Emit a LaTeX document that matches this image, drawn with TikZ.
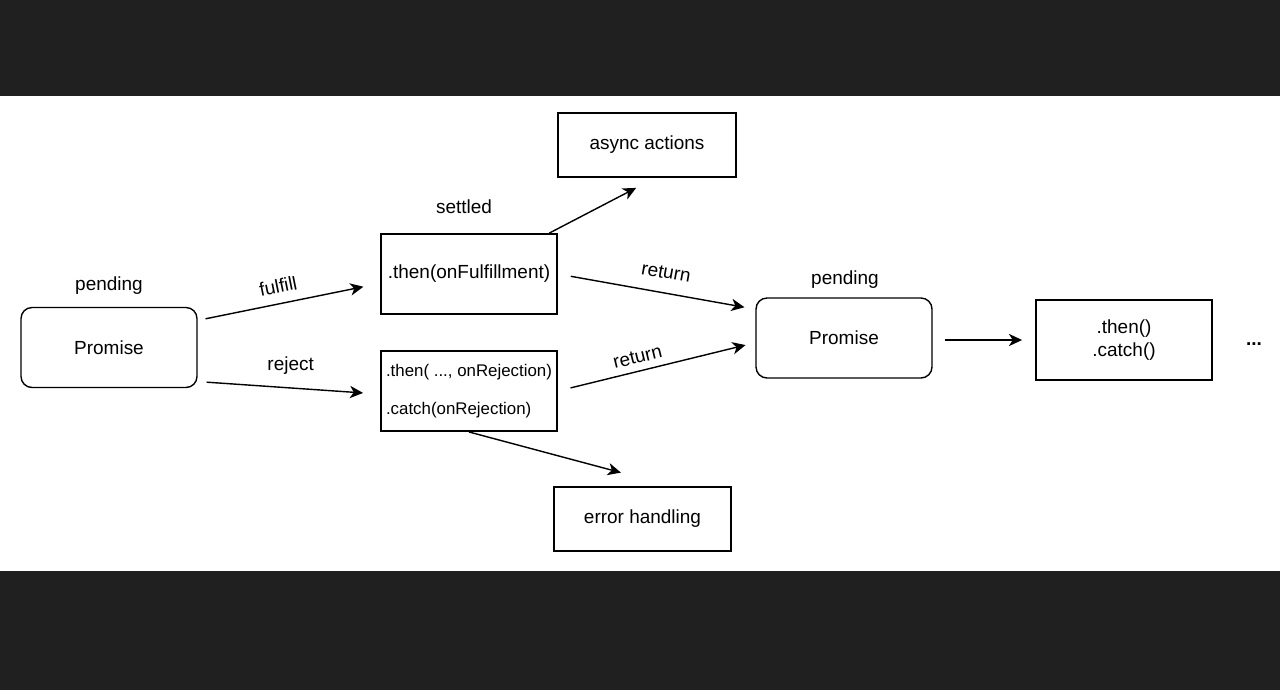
\documentclass[tikz,border=0pt]{standalone}
\usepackage{fontspec}
\setmainfont{Liberation Sans}
\usepackage{tikz}
\usetikzlibrary{arrows.meta,calc}

\definecolor{bandgray}{RGB}{32,32,32}

\begin{document}
\begin{tikzpicture}[x=0.02cm,y=-0.02cm,
    font=\fontsize{10.8}{13}\selectfont,
    box/.style={draw=black,line width=1.1pt,minimum width=3.52cm,minimum height=1.6cm,inner sep=0pt},
    roundbox/.style={box,rounded corners=0.22cm,line width=0.8pt},
    arr/.style={draw=black,line width=0.8pt,-{Stealth[length=7.5pt,width=7pt,inset=2.2pt]}},
    lbl/.style={inner sep=0pt}]

    % Page size and dark bands
    \useasboundingbox (0,0) rectangle (1280,690);
    \fill[bandgray] (0,0) rectangle (1280,96);
    \fill[bandgray] (0,571) rectangle (1280,690);

    % ---- boxes ----
    \node[roundbox] (prom1) at (109,347.5) {Promise};
    \node[box,align=left] (thenbox) at (469,274) {.then(onFulfillment)};
    \node[box,align=left,font=\fontsize{9.6}{12}\selectfont] (catchbox) at (469,391)
        {.then( ..., onRejection)\\[10pt].catch(onRejection)};
    \node[box,minimum width=3.56cm,minimum height=1.28cm] (async) at (647,145) {async actions};
    \node[box,minimum width=3.54cm,minimum height=1.28cm] (error) at (642.5,519) {error handling};
    \node[roundbox] (prom2) at (844,338) {Promise};
    \node[box,align=center] (chain) at (1124,340) {.then()\\.catch()};

    % ---- state labels ----
    \node[lbl] (pend1) at (109,286) {pending};
    \node[lbl] (settled) at (464,207) {settled};
    \node[lbl] (pend2) at (845,280) {pending};
    \node[lbl] (more) at (1254,344) {\textbf{...}};

    % ---- connectors ----
    \draw[arr,shorten <=0.16cm,shorten >=0.34cm] (prom1.17)
        -- node[lbl,sloped,above=5.5pt,pos=0.46] {fulfill} (thenbox.186);
    \draw[arr,shorten <=0.18cm,shorten >=0.34cm] (prom1.-21)
        -- node[lbl,above=7.3pt,pos=0.51] {reject} (catchbox.182);
    \draw[arr,shorten >=0.43cm] (thenbox.27) -- (async.284);
    \draw[arr,shorten <=0.26cm,shorten >=0.22cm] (thenbox.east)
        -- node[lbl,sloped,above=7.7pt,pos=0.53] {return} (prom2.162);
    \draw[arr,shorten <=0.26cm,shorten >=0.2cm] (catchbox.east)
        -- node[lbl,sloped,above=4pt,pos=0.42] {return} (prom2.183.5);
    \draw[arr,shorten >=1.04cm] (catchbox.south) -- (error.49);
    \draw[arr,shorten <=0.24cm,shorten >=0.26cm] (chain.west -| prom2.east) -- (chain.west);

\end{tikzpicture}
\end{document}
